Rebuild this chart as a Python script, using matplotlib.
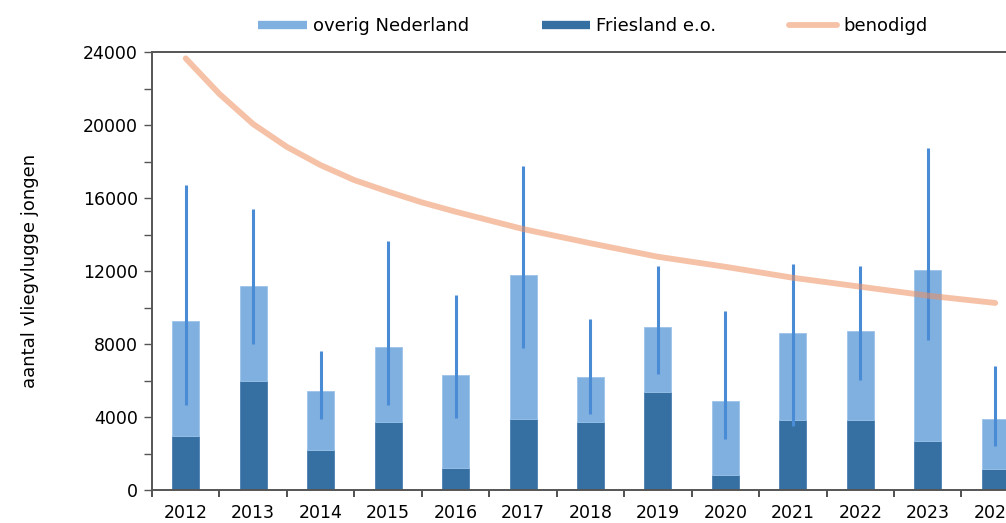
import matplotlib
matplotlib.use("Agg")
import matplotlib.pyplot as plt
from matplotlib.lines import Line2D
import numpy as np

years = [2012, 2013, 2014, 2015, 2016, 2017, 2018, 2019, 2020, 2021, 2022, 2023, 2024]
friesland = [2950, 6000, 2200, 3750, 1200, 3900, 3750, 5350, 800, 3850, 3850, 2700, 1150]
totaal = [9250, 11200, 5450, 7850, 6280, 11800, 6170, 8930, 4850, 8620, 8700, 12070, 3880]
overig = [t - f for t, f in zip(totaal, friesland)]
err_low = [4650, 8000, 3870, 4650, 3960, 7780, 4160, 6340, 2780, 3520, 6030, 8220, 2420]
err_high = [16700, 15400, 7600, 13650, 10680, 17750, 9350, 12290, 9810, 12370, 12290, 18740, 6790]

# "benodigd" curve (extra readings at half years where it bends most)
benodigd_x = [2012, 2012.5, 2013, 2013.5, 2014, 2014.5, 2015, 2015.5, 2016, 2017, 2018,
              2019, 2020, 2021, 2022, 2023, 2024]
benodigd = [23650, 21700, 20050, 18800, 17800, 16980, 16350, 15760, 15250, 14300, 13520,
            12780, 12230, 11630, 11140, 10650, 10250]

c_light = "#80b0e0"
c_dark = "#3670a3"
c_err = "#4a8bd6"
c_curve = "#ee8f5f"

fig = plt.figure(figsize=(10.06, 5.23), dpi=100)
ax = fig.add_axes([152 / 1006, 1 - 490 / 523, 1 - 152 / 1006, (490 - 52) / 523])

x = np.array(years)
ax.bar(x, friesland, width=0.4, color=c_dark, edgecolor="#4a7fb2", linewidth=0.6, zorder=2)
ax.bar(x, overig, bottom=friesland, width=0.4, color=c_light, edgecolor="#9cc3ea", linewidth=0.6, zorder=2)
ax.vlines(x, err_low, err_high, color=c_err, linewidth=2.2, zorder=3)
ax.plot(benodigd_x, benodigd, color=c_curve, alpha=0.55, linewidth=4.2,
        solid_capstyle="round", solid_joinstyle="round", zorder=4)

ax.set_yticks(np.arange(0, 24001, 4000))
ax.set_yticks(np.arange(0, 24001, 2000), minor=True)
ax.set_xticks(x)
ax.set_xticklabels([str(y) for y in years])
ax.set_xticks(np.arange(2011.5, 2024.6, 1.0), minor=True)
ax.set_xlim(2011.5, 2024.16)
ax.set_ylim(0, 24000)

ax.tick_params(axis="x", which="major", length=0, pad=10, labelsize=12.5)
ax.tick_params(axis="x", which="minor", length=5, width=1.2, direction="out", color="#333333")
ax.tick_params(axis="y", which="both", length=6, width=1.0, direction="out", color="#555555", labelsize=12.5, pad=4)

for s in ["left", "bottom", "top"]:
    ax.spines[s].set_color("#555555")
    ax.spines[s].set_linewidth(1.4)
ax.spines["right"].set_visible(False)

ax.set_ylabel("aantal vliegvlugge jongen", fontsize=13)
ax.yaxis.label.set_va("center")
ax.yaxis.set_label_coords((30 - 152) / (1006 - 152), 0.5)

handles = [
    Line2D([0], [0], color=c_light, linewidth=6, solid_capstyle="butt"),
    Line2D([0], [0], color=c_dark, linewidth=6, solid_capstyle="butt"),
    Line2D([0], [0], color=c_curve, alpha=0.55, linewidth=4.2, solid_capstyle="round"),
]
labels = ["overig Nederland", "Friesland e.o.", "benodigd"]
leg = fig.legend(handles, labels, loc="center", bbox_to_anchor=(593 / 1006, 1 - 26 / 523), ncol=3,
                 frameon=False, fontsize=13, handlelength=2.7, handletextpad=0.33, columnspacing=4.0)

fig.savefig("out.png", dpi=100)
